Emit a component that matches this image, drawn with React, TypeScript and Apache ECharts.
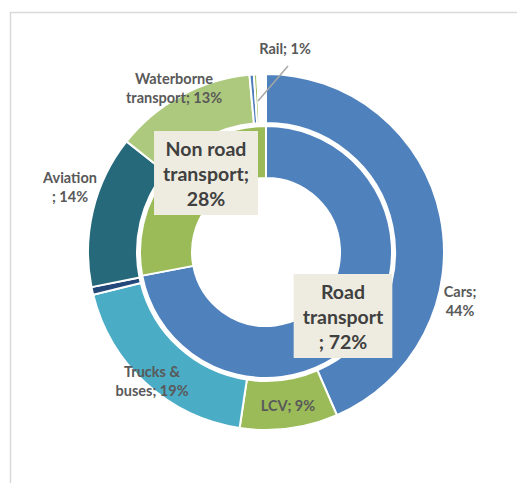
import React, { useEffect, useRef } from "react";
import * as echarts from "echarts";

// Inner ring: transport groups (% of emissions)
const groupNames = ["Road transport", "Non road transport"];
const groupValues = [72, 28];
const groupLabels = ["Road\ntransport\n; 72%", "Non road\ntransport;\n28%"];

// Outer ring: transport modes (% of emissions)
const modeNames = [
  "Cars",
  "LCV",
  "Trucks & buses",
  "Other road",
  "Aviation",
  "Waterborne transport",
  "Rail",
  "Other non road",
  "Unallocated",
];
const modeValues = [44, 9, 19, 0.7, 14, 13, 0.4, 0.3, 0.8];
const modeLabels = [
  "Cars;\n44%",
  "LCV; 9%",
  "Trucks &\nbuses; 19%",
  "",
  "Aviation\n; 14%",
  "Waterborne\ntransport; 13%",
  "Rail; 1%",
  "",
  "",
];

// styling (not data)
const groupColors = ["#4F81BD", "#9BBB59"];
const modeColors = ["#4F81BD", "#9BBB59", "#4BACC6", "#23497A", "#25697B", "#ADC97D", "#4F7DBA", "#9BBB59", "#FFFFFF"];
const modeLabelPos: ([number, number] | null)[] = [
  [460, 301],
  [288, 405],
  [152, 381],
  null,
  [70, 187],
  [174, 88],
  [285, 48],
  null,
  null,
];
const groupLabelPos: [number, number][] = [
  [343, 316],
  [206, 173],
];

export default function App() {
  const ref = useRef<HTMLDivElement>(null);
  useEffect(() => {
    document.body.style.margin = "0";
    const chart = echarts.init(ref.current!, null, { renderer: "svg" });
    const font = "Lato, 'Open Sans', sans-serif";
    chart.setOption({
      animation: false,
      backgroundColor: "#FFFFFF",
      graphic: [
        {
          type: "rect",
          shape: { x: 10.5, y: 12.5, width: 600, height: 600 },
          style: { fill: "none", stroke: "#D9D9D9", lineWidth: 1.5 },
          silent: true,
          z: -10,
        },
        {
          type: "line",
          shape: { x1: 258, y1: 101, x2: 288, y2: 66 },
          style: { stroke: "#A6A6A6", lineWidth: 1.5 },
          silent: true,
          z: 10,
        },
      ],
      series: [
        {
          type: "pie",
          center: [266, 252],
          radius: [74, 126],
          startAngle: 90,
          clockwise: true,
          silent: true,
          itemStyle: { borderColor: "#FFFFFF", borderWidth: 2 },
          label: {
            show: true,
            position: "inside",
            formatter: (p: any) => groupLabels[p.dataIndex],
            fontFamily: font,
            fontWeight: "bold",
            fontSize: 19.5,
            lineHeight: 25,
            color: "#404040",
            backgroundColor: "#EEECE1",
            padding: [5, 9, 4, 9],
            align: "center",
            overflow: "none",
          },
          labelLine: { show: false },
          labelLayout: (p: any) => {
            const pos = groupLabelPos[p.dataIndex];
            return { x: pos[0], y: pos[1], align: "center", verticalAlign: "middle" };
          },
          data: groupNames.map((n, i) => ({
            name: n,
            value: groupValues[i],
            itemStyle: { color: groupColors[i] },
          })),
        },
        {
          type: "pie",
          center: [266, 252],
          radius: [129, 178],
          startAngle: 90,
          clockwise: true,
          silent: true,
          itemStyle: { borderColor: "#FFFFFF", borderWidth: 2 },
          label: {
            show: true,
            position: "outside",
            formatter: (p: any) => modeLabels[p.dataIndex],
            fontFamily: font,
            fontWeight: "bold",
            fontSize: 14.5,
            lineHeight: 19,
            color: "#595959",
            align: "center",
            overflow: "none",
            width: 200,
          },
          labelLine: { show: false },
          labelLayout: (p: any) => {
            const pos = modeLabelPos[p.dataIndex];
            if (!pos) return {};
            return { x: pos[0], y: pos[1], align: "center", verticalAlign: "middle" };
          },
          data: modeNames.map((n, i) => ({
            name: n,
            value: modeValues[i],
            itemStyle: { color: modeColors[i] },
            label: { show: modeLabels[i] !== "" },
          })),
        },
      ],
    });
    return () => chart.dispose();
  }, []);
  return <div ref={ref} style={{ width: 517, height: 483 }} />;
}
